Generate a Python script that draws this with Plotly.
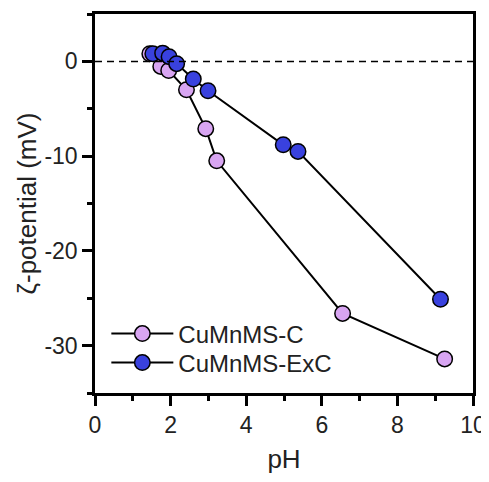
import plotly.graph_objects as go

ph_c = [1.45, 1.74, 1.95, 2.42, 2.93, 3.22, 6.55, 9.25]
zeta_c = [0.8, -0.53, -0.96, -3.0, -7.1, -10.5, -26.6, -31.4]

ph_exc = [1.53, 1.79, 1.96, 2.16, 2.60, 2.99, 4.98, 5.37, 9.14]
zeta_exc = [0.8, 0.87, 0.5, -0.24, -1.86, -3.1, -8.8, -9.5, -25.1]

names = ["CuMnMS-C", "CuMnMS-ExC"]
colors = ["#D8A5F2", "#3941DE"]

x_ticks = [0, 2, 4, 6, 8, 10]
y_ticks = [-30, -20, -10, 0]
y_ticktext = ["-30", "-20", "-10", "0"]

FONT = "Liberation Sans, Arial"

fig = go.Figure()
fig.add_hline(y=0, line=dict(color="black", width=1.5, dash="7px,5px"))
for x, y, n, c, lg in [(ph_c, zeta_c, names[0], colors[0], "legend"),
                       (ph_exc, zeta_exc, names[1], colors[1], "legend2")]:
    fig.add_trace(go.Scatter(
        x=x, y=y, name=n, mode="lines+markers", legend=lg,
        line=dict(color="black", width=2),
        marker=dict(size=15.5, color=c, line=dict(color="black", width=1.5)),
    ))

axis_common = dict(
    showline=True, linecolor="black", linewidth=2.5, mirror=True,
    ticks="outside", ticklen=10, tickwidth=2.5, tickcolor="black",
    showgrid=False, zeroline=False, automargin=False,
    tickfont=dict(family=FONT, size=23, color="#222"),
    title_font=dict(family=FONT, size=26, color="#222"),
)

legend_common = dict(xanchor="left", yanchor="middle", bgcolor="rgba(0,0,0,0)",
                     font=dict(family=FONT, size=24, color="#222"), itemwidth=62)

fig.update_layout(
    width=481, height=466,
    margin=dict(l=87, r=16, t=6, b=81, autoexpand=False),
    plot_bgcolor="white", paper_bgcolor="white",
    xaxis=dict(range=[0, 10], tickvals=x_ticks, title=dict(text="pH", standoff=29),
               minor=dict(dtick=1, tick0=0, ticks="outside", ticklen=5, tickwidth=2.5, tickcolor="black"),
               **axis_common),
    yaxis=dict(range=[-35, 5], tickvals=y_ticks, ticktext=y_ticktext,
               title=dict(text="ζ-potential (mV)", standoff=1),
               minor=dict(dtick=5, tick0=0, ticks="outside", ticklen=5, tickwidth=2.5, tickcolor="black"),
               **axis_common),
    legend=dict(x=0.03, y=0.1557, **legend_common),
    legend2=dict(x=0.03, y=0.0792, **legend_common),
    showlegend=True,
)

fig.write_html("out.html")
